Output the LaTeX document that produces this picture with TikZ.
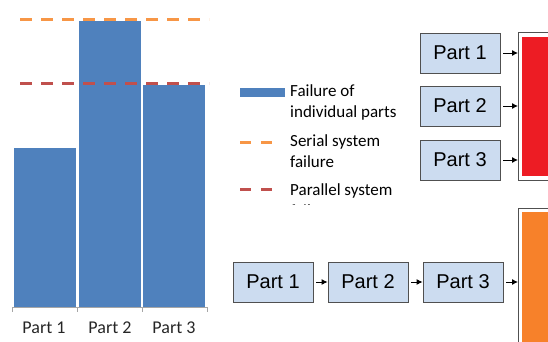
\documentclass[tikz,border=0pt]{standalone}
\usepackage{fontspec}
\setmainfont{Liberation Sans}
\newfontfamily\chartfont{Carlito}
\usetikzlibrary{arrows.meta}
\definecolor{barblue}{HTML}{4F81BD}
\definecolor{serialorange}{HTML}{F79646}
\definecolor{parallelred}{HTML}{C0504D}
\definecolor{sysred}{HTML}{ED1C24}
\definecolor{sysorange}{HTML}{F7812A}
\definecolor{partfill}{HTML}{CCDCF0}
\definecolor{partline}{HTML}{505050}
\begin{document}
\begin{tikzpicture}[x=1pt,y=-1pt,
  bar/.style={fill=barblue,draw=none},
  serialline/.style={draw=serialorange,line width=3pt,dash pattern=on 12pt off 9pt},
  parallelline/.style={draw=parallelred,line width=3pt,dash pattern=on 12pt off 9pt},
  axislabel/.style={font=\chartfont\fontsize{18}{20}\selectfont,text=black!85,anchor=center},
  legendtext/.style={font=\chartfont\fontsize{17}{21}\selectfont,anchor=west,align=left,inner sep=0pt},
  partbox/.style={draw=partline,fill=partfill,line width=0.9pt,minimum width=80pt,minimum height=40pt,inner sep=0pt,font=\fontsize{20}{22}\selectfont},
  link/.style={draw=black,line width=0.9pt,shorten <=3pt,-{Latex[length=6pt,width=6pt]}}]
\useasboundingbox (0,0) rectangle (548,342);

% bars of the chart
\fill[bar] (14,148) rectangle (76,307);
\fill[bar] (79,21) rectangle (141,307);
\fill[bar] (143,85) rectangle (205,307);
% category axis with ticks
\draw[gray!70,line width=0.6pt] (12,307) -- (207,307);
\foreach \t in {12,77,142,207} \draw[gray!70,line width=0.6pt] (\t,307) -- (\t,312);
\node[axislabel] (l1) at (44,328) {Part 1};
\node[axislabel] (l2) at (110,328) {Part 2};
\node[axislabel] (l3) at (174,328) {Part 3};
% system failure levels
\draw[serialline] (20,20) -- (209,20);
\draw[parallelline] (20,84) -- (209,84);

% legend
\fill[barblue] (240,88) rectangle (285,97);
\node[legendtext] (lg1) at (290,102.5) {Failure of\\individual parts};
\draw[serialline,dash pattern=on 11pt off 10pt] (240,142) -- (272,142);
\node[legendtext] (lg2) at (290,151) {Serial system\\failure};
\draw[parallelline,dash pattern=on 11pt off 10pt] (240,189) -- (272,189);
\begin{scope}
\clip (280,170) rectangle (420,204);
\node[legendtext] (lg3) at (290,200) {Parallel system\\failure};
\end{scope}

% parallel system
\draw[partline,line width=1pt,fill=white] (518,33) rectangle (560,180);
\fill[sysred] (522,37) rectangle (560,176);
\coordinate (redin1) at (518,53);
\coordinate (redin2) at (518,106);
\coordinate (redin3) at (518,160);
\node[partbox] (p1) at (460,53) {Part 1};
\node[partbox] (p2) at (460,106) {Part 2};
\node[partbox] (p3) at (460,160) {Part 3};
\draw[link] (p1) -- (redin1);
\draw[link] (p2) -- (redin2);
\draw[link] (p3) -- (redin3);

% serial system
\draw[partline,line width=1pt,fill=white] (518,208) rectangle (560,360);
\fill[sysorange] (522,212) rectangle (560,360);
\coordinate (orin) at (518,282);
\node[partbox] (s1) at (273,282) {Part 1};
\node[partbox] (s2) at (368,282) {Part 2};
\node[partbox] (s3) at (463,282) {Part 3};
\draw[link] (s1) -- (s2);
\draw[link] (s2) -- (s3);
\draw[link] (s3) -- (orin);
\end{tikzpicture}
\end{document}
